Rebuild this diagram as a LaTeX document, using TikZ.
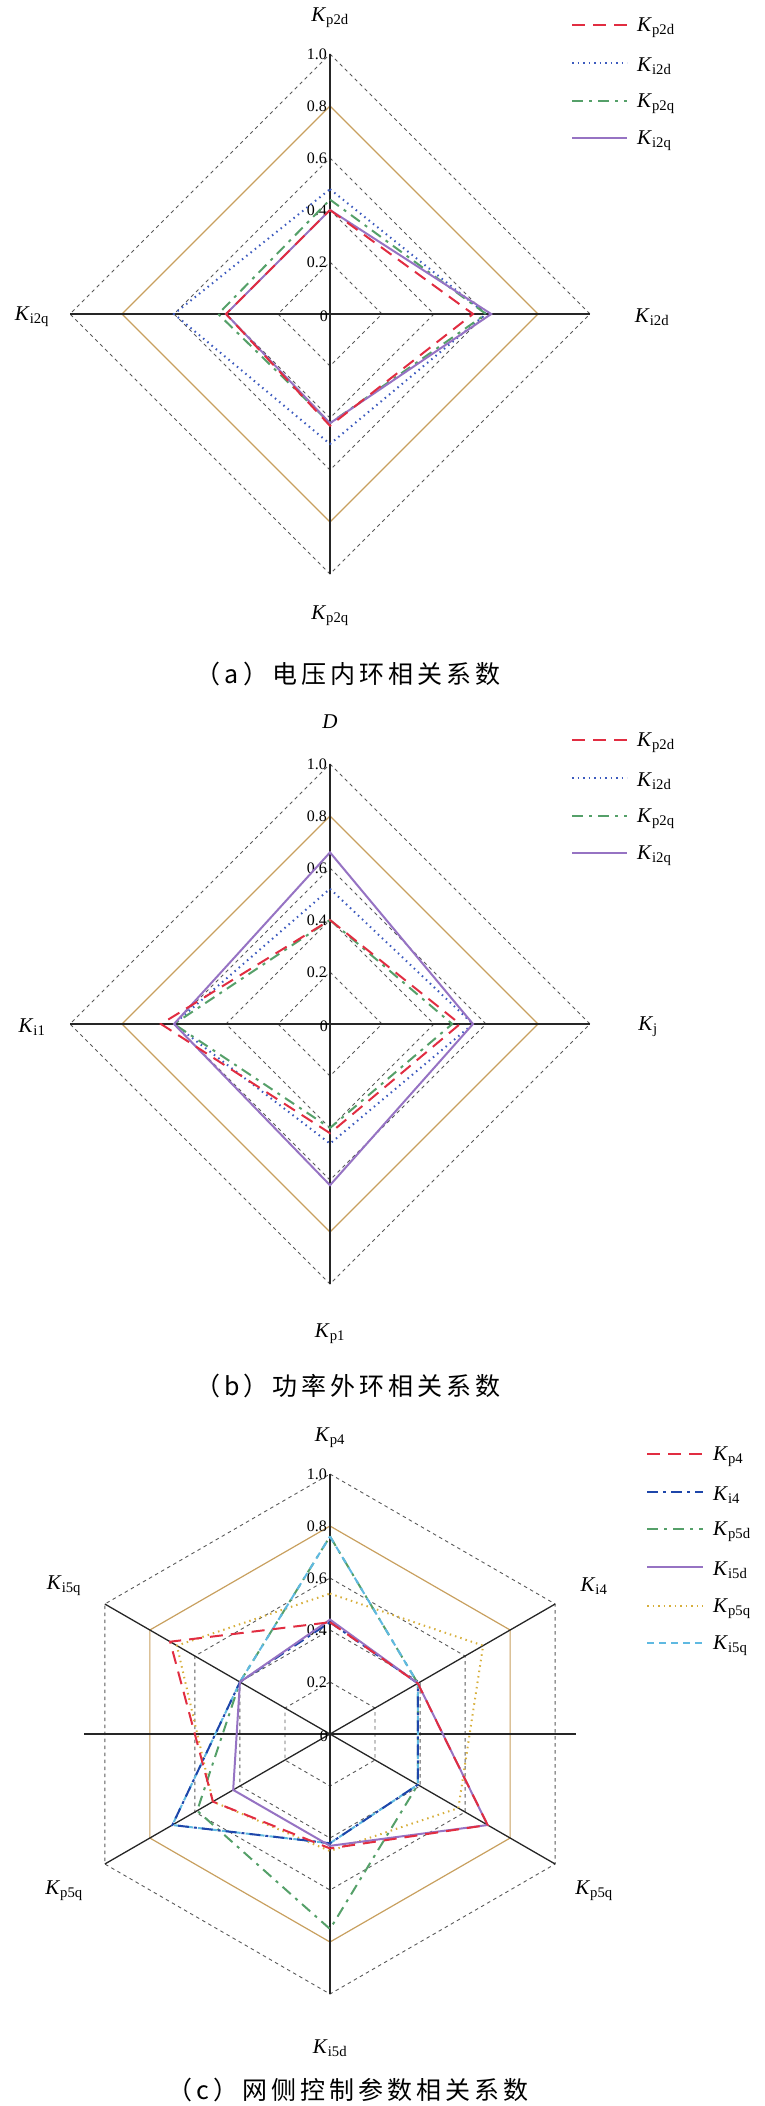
\documentclass[tikz,border=0pt]{standalone}
\usepackage{fontspec}
\setmainfont{Liberation Serif}
\newfontfamily\cjk{Noto Sans CJK SC}
\definecolor{cred}{RGB}{225,45,65}
\definecolor{cblue}{RGB}{60,90,190}
\definecolor{cdblue}{RGB}{30,70,170}
\definecolor{cgreen}{RGB}{85,160,105}
\definecolor{cpurple}{RGB}{150,115,195}
\definecolor{corange}{RGB}{215,175,60}
\definecolor{ccyan}{RGB}{95,185,225}
\definecolor{cgold}{RGB}{200,160,95}
\tikzset{
 ring/.style={gray!70!black,dash pattern=on 3.5pt off 3.5pt,line width=0.9pt},
 goldring/.style={cgold,line width=1.2pt},
 ax/.style={black!85,line width=1.3pt},
 sred/.style={cred,line width=2pt,dash pattern=on 13pt off 8pt},
 sblue/.style={cblue,line width=2pt,dash pattern=on 1.5pt off 4pt},
 sdblue/.style={cdblue,line width=2pt,dash pattern=on 11pt off 5pt on 3pt off 5pt},
 sgreen/.style={cgreen,line width=2pt,dash pattern=on 11pt off 6pt on 3pt off 6pt},
 spurple/.style={cpurple,line width=2pt},
 sorange/.style={corange,line width=2pt,dash pattern=on 1.5pt off 4pt},
 scyan/.style={ccyan,line width=2pt,dash pattern=on 7pt off 5pt},
 lab/.style={font=\fontsize{21}{21}\selectfont},
 tick/.style={font=\fontsize{16}{16}\selectfont,anchor=east,inner sep=1pt},
 leg/.style={font=\fontsize{21}{21}\selectfont,anchor=west,inner sep=0pt},
 captxt/.style={font=\cjk\fontsize{25}{25}\selectfont}
}
\newcommand\Kx[1]{\textit{K}\textsubscript{#1}}
\newcommand\diam[5]{\draw[#1] (90:#2*260) -- (0:#3*260) -- (-90:#4*260) -- (180:#5*260) -- cycle;}
\newcommand\hexa[7]{\draw[#1] (90:#2*260) -- (30:#3*260) -- (-30:#4*260) -- (-90:#5*260) -- (210:#6*260) -- (150:#7*260) -- cycle;}
\newcommand\spaced[1]{\addfontfeature{LetterSpace=16}#1}
\begin{document}
\begin{tikzpicture}[x=1pt,y=1pt]
\useasboundingbox (0,0) rectangle (765,-2106);
% ---------- (a) ----------
\begin{scope}[shift={(330,-314)}]
 \foreach \r in {0.2,0.4,0.6,1.0} {\diam{ring}{\r}{\r}{\r}{\r}}
 \diam{goldring}{0.8}{0.8}{0.8}{0.8}
 \draw[ax] (0,-260) -- (0,260); \draw[ax] (-260,0) -- (260,0);
 \foreach \r in {0.2,0.4,0.6,0.8,1.0} {\node[tick] at (-2,\r*260) {\r};}
 \node[tick] at (-1,-2) {0};
 \diam{sblue}{0.48}{0.6}{0.5}{0.6}
 \diam{sgreen}{0.44}{0.6}{0.42}{0.43}
 \diam{spurple}{0.4}{0.62}{0.42}{0.4}
 \diam{sred}{0.4}{0.55}{0.43}{0.4}
 \node[lab] (a1) at (0,296) {\Kx{p2d}};
 \node[lab] (a2) at (322,-3) {\Kx{i2d}};
 \node[lab] (a3) at (0,-302) {\Kx{p2q}};
 \node[lab] (a4) at (-298,-3) {\Kx{i2q}};
 \node[captxt] (ac) at (18,-360) {\spaced{（a）电压内环相关系数}};
\end{scope}
\begin{scope}[shift={(572,-25)}]
 \draw[sred] (0,0) -- (55,0); \node[leg] (la1) at (65,-3) {\Kx{p2d}};
 \draw[sblue] (0,-38) -- (55,-38); \node[leg] (la2) at (65,-41) {\Kx{i2d}};
 \draw[sgreen] (0,-76) -- (55,-76); \node[leg] (la3) at (65,-79) {\Kx{p2q}};
 \draw[spurple] (0,-113) -- (55,-113); \node[leg] (la4) at (65,-116) {\Kx{i2q}};
\end{scope}
% ---------- (b) ----------
\begin{scope}[shift={(330,-1024)}]
 \foreach \r in {0.2,0.4,0.6,1.0} {\diam{ring}{\r}{\r}{\r}{\r}}
 \diam{goldring}{0.8}{0.8}{0.8}{0.8}
 \draw[ax] (0,-260) -- (0,260); \draw[ax] (-260,0) -- (260,0);
 \foreach \r in {0.2,0.4,0.6,0.8,1.0} {\node[tick] at (-2,\r*260) {\r};}
 \node[tick] at (-1,-2) {0};
 \diam{sblue}{0.52}{0.55}{0.46}{0.6}
 \diam{sgreen}{0.4}{0.47}{0.4}{0.6}
 \diam{spurple}{0.66}{0.55}{0.62}{0.6}
 \diam{sred}{0.4}{0.5}{0.42}{0.65}
 \node[lab] (b1) at (0,302) {\textit{D}};
 \node[lab] (b2) at (318,-3) {\Kx{j}};
 \node[lab] (b3) at (0,-310) {\Kx{p1}};
 \node[lab] (b4) at (-298,-3) {\Kx{i1}};
 \node[captxt] (bc) at (18,-362) {\spaced{（b）功率外环相关系数}};
\end{scope}
\begin{scope}[shift={(572,-740)}]
 \draw[sred] (0,0) -- (55,0); \node[leg] (lb1) at (65,-3) {\Kx{p2d}};
 \draw[sblue] (0,-38) -- (55,-38); \node[leg] (lb2) at (65,-41) {\Kx{i2d}};
 \draw[sgreen] (0,-76) -- (55,-76); \node[leg] (lb3) at (65,-79) {\Kx{p2q}};
 \draw[spurple] (0,-113) -- (55,-113); \node[leg] (lb4) at (65,-116) {\Kx{i2q}};
\end{scope}
% ---------- (c) ----------
\begin{scope}[shift={(330,-1734)}]
 \foreach \r in {0.2,0.4,0.6,1.0} {\hexa{ring}{\r}{\r}{\r}{\r}{\r}{\r}}
 \hexa{goldring}{0.8}{0.8}{0.8}{0.8}{0.8}{0.8}
 \draw[ax] (0,-260) -- (0,260);
 \draw[ax] (-246,0) -- (246,0);
 \draw[ax] (30:260) -- (210:260);
 \draw[ax] (150:260) -- (-30:260);
 \foreach \r in {0.2,0.4,0.6,0.8,1.0} {\node[tick] at (-2,\r*260) {\r};}
 \node[tick] at (-1,-2) {0};
 \hexa{sorange}{0.54}{0.68}{0.57}{0.45}{0.52}{0.68}
 \hexa{sgreen}{0.76}{0.39}{0.39}{0.75}{0.59}{0.4}
 \hexa{scyan}{0.76}{0.39}{0.39}{0.42}{0.7}{0.4}
 \hexa{sdblue}{0.43}{0.39}{0.39}{0.42}{0.7}{0.4}
 \hexa{spurple}{0.44}{0.39}{0.7}{0.43}{0.43}{0.4}
 \hexa{sred}{0.43}{0.39}{0.7}{0.44}{0.52}{0.71}
 \node[lab] (c1) at (0,296) {\Kx{p4}};
 \node[lab] (c2) at (264,148) {\Kx{i4}};
 \node[lab] (c3) at (264,-157) {\Kx{p5q}};
 \node[lab] (c4) at (0,-314) {\Kx{i5d}};
 \node[lab] (c5) at (-266,-157) {\Kx{p5q}};
 \node[lab] (c6) at (-266,148) {\Kx{i5q}};
 \node[captxt] (cc) at (18,-356) {\spaced{（c）网侧控制参数相关系数}};
\end{scope}
\begin{scope}[shift={(647,-1454)}]
 \draw[sred] (0,0) -- (56,0); \node[leg] (lc1) at (66,-3) {\Kx{p4}};
 \draw[sdblue] (0,-38) -- (56,-38); \node[leg] (lc2) at (66,-41) {\Kx{i4}};
 \draw[sgreen] (0,-75) -- (56,-75); \node[leg] (lc3) at (66,-78) {\Kx{p5d}};
 \draw[spurple] (0,-113) -- (56,-113); \node[leg] (lc4) at (66,-116) {\Kx{i5d}};
 \draw[sorange] (0,-152) -- (56,-152); \node[leg] (lc5) at (66,-155) {\Kx{p5q}};
 \draw[scyan] (0,-189) -- (56,-189); \node[leg] (lc6) at (66,-192) {\Kx{i5q}};
\end{scope}
\end{tikzpicture}
\end{document}
